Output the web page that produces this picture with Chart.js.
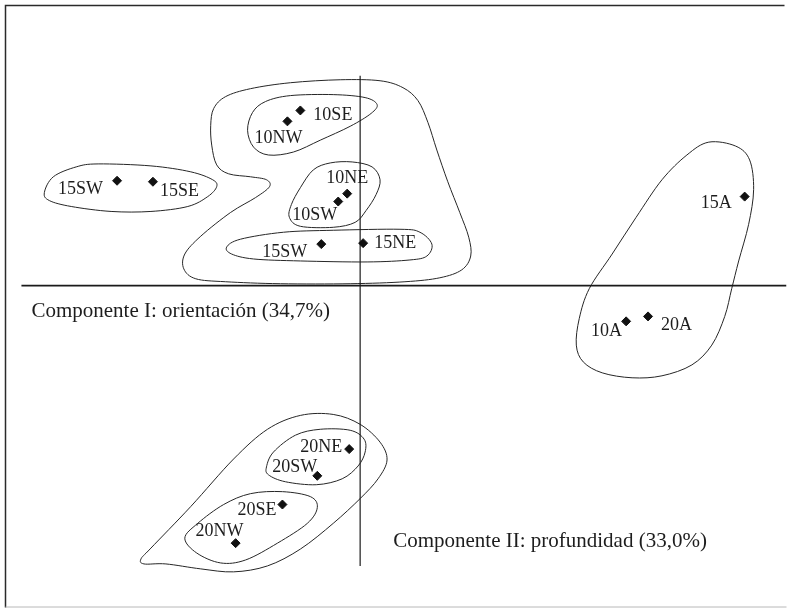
<!DOCTYPE html>
<html>
<head>
<meta charset="utf-8">
<script src="https://cdn.jsdelivr.net/npm/chart.js@4.4.0/dist/chart.umd.min.js"></script>
<style>
  html, body { margin: 0; padding: 0; background: #fff; }
  #wrap { width: 792px; height: 613px; }
</style>
</head>
<body>
<div id="wrap"><canvas id="c" width="792" height="613"></canvas></div>
<script>
// Sample names and their scores on the two principal components
const sampleNames = ['10SE', '10NW', '15SW', '15SE', '10NE', '10SW', '15SW', '15NE',
                     '15A', '10A', '20A', '20NE', '20SW', '20SE', '20NW'];
const scoreI  = [-0.60, -0.73, -2.44, -2.08, -0.13, -0.22, -0.39, 0.03,
                  3.86,  2.67,  2.89, -0.11, -0.43, -0.78, -1.25];
const scoreII = [ 1.77,  1.66,  1.06,  1.05,  0.93,  0.85,  0.42, 0.43,
                  0.90, -0.36, -0.31, -1.65, -1.92, -2.21, -2.60];

// Axis titles
const titleI = 'Componente I: orientación (34,7%)';
const titleII = 'Componente II: profundidad (33,0%)';

// Outlines of the groups, in component units
const groupShallow = [[-1.47,1.79],[-1.35,1.91],[-1.10,1.99],[-0.70,2.05],[-0.20,2.08],[0.20,2.07],
  [0.43,2.00],[0.58,1.87],[0.68,1.65],[0.77,1.37],[0.88,1.05],[1.00,0.74],[1.09,0.49],[1.11,0.30],
  [1.02,0.16],[0.80,0.08],[0.45,0.04],[-0.10,0.02],[-0.80,0.02],[-1.35,0.04],[-1.65,0.07],
  [-1.77,0.17],[-1.76,0.32],[-1.60,0.50],[-1.30,0.74],[-1.05,0.89],[-0.91,1.00],[-0.94,1.07],
  [-1.10,1.10],[-1.32,1.13],[-1.44,1.22],[-1.49,1.42],[-1.50,1.62]];
const group10North = [[-1.13,1.57],[-1.08,1.75],[-0.95,1.86],[-0.70,1.92],[-0.27,1.93],[0.05,1.90],
  [0.17,1.83],[0.11,1.74],[-0.10,1.61],[-0.40,1.47],[-0.67,1.35],[-0.92,1.32],[-1.07,1.40]];
const group10East = [[-0.47,1.17],[-0.30,1.24],[-0.08,1.25],[0.12,1.20],[0.20,1.07],[0.16,0.92],
  [0.06,0.76],[-0.05,0.64],[-0.27,0.59],[-0.60,0.60],[-0.71,0.69],[-0.69,0.82],[-0.60,0.99]];
const group15Centre = [[-1.34,0.39],[-1.20,0.47],[-0.77,0.54],[-0.27,0.56],[0.40,0.57],[0.60,0.54],
  [0.72,0.42],[0.67,0.30],[0.50,0.26],[0.07,0.24],[-0.60,0.25],[-1.07,0.27],[-1.29,0.32]];
const group15West = [[-3.17,0.94],[-3.08,1.10],[-2.85,1.20],[-2.63,1.23],[-2.10,1.21],[-1.70,1.15],
  [-1.48,1.07],[-1.44,1.00],[-1.53,0.90],[-1.73,0.80],[-2.10,0.75],[-2.50,0.75],[-2.90,0.80],[-3.12,0.86]];
const groupA = [[3.50,1.45],[3.77,1.41],[3.91,1.27],[3.95,0.97],[3.90,0.62],[3.80,0.25],[3.73,-0.03],
  [3.66,-0.31],[3.53,-0.60],[3.33,-0.80],[3.03,-0.91],[2.73,-0.93],[2.43,-0.88],[2.24,-0.77],
  [2.17,-0.60],[2.20,-0.33],[2.30,-0.03],[2.53,0.32],[2.77,0.69],[3.03,1.07],[3.28,1.32]];
const groupDeep = [[-2.20,-2.76],[-2.10,-2.65],[-1.70,-2.23],[-1.27,-1.75],[-0.93,-1.45],[-0.60,-1.31],
  [-0.27,-1.30],[0.00,-1.40],[0.20,-1.58],[0.27,-1.76],[0.18,-1.95],[0.00,-2.15],[-0.27,-2.40],
  [-0.60,-2.66],[-0.93,-2.83],[-1.27,-2.89],[-1.60,-2.86],[-1.95,-2.81],[-2.17,-2.81]];
const group20East = [[-0.94,-1.83],[-0.87,-1.68],[-0.65,-1.51],[-0.40,-1.45],[-0.10,-1.46],[0.04,-1.55],
  [0.05,-1.68],[-0.02,-1.82],[-0.18,-1.95],[-0.44,-2.01],[-0.75,-1.98],[-0.92,-1.91]];
const group20West = [[-1.76,-2.55],[-1.63,-2.40],[-1.37,-2.21],[-1.10,-2.10],[-0.78,-2.08],[-0.50,-2.13],
  [-0.43,-2.24],[-0.53,-2.40],[-0.83,-2.60],[-1.15,-2.77],[-1.40,-2.80],[-1.64,-2.70]];
const groupOutlines = [groupShallow, group10North, group10East, group15Centre, group15West,
                       groupA, groupDeep, group20East, group20West];

// Label placement next to each marker: [align, dx, dy] in pixels
const labelPlacement = [
  ['left', 13, 5], ['center', -9, 17], ['right', -14, 9], ['left', 7, 10],
  ['center', 0, -15], ['right', -1, 14], ['right', -14, 8], ['left', 11, 0],
  ['right', -13, 7], ['right', -4, 10], ['left', 13, 9], ['right', -7, -2],
  ['right', 0, -9], ['right', -6, 6], ['center', -16, -12]
];

const SERIF = '"Liberation Serif", "Times New Roman", "DejaVu Serif", serif';
const INK = '#1d1d1d';

// Closed Catmull-Rom outline through the given pixel points
function closedCurve(ctx, pts) {
  const n = pts.length;
  ctx.beginPath();
  ctx.moveTo(pts[0][0], pts[0][1]);
  for (let i = 0; i < n; i++) {
    const p0 = pts[(i - 1 + n) % n], p1 = pts[i], p2 = pts[(i + 1) % n], p3 = pts[(i + 2) % n];
    ctx.bezierCurveTo(
      p1[0] + (p2[0] - p0[0]) / 6, p1[1] + (p2[1] - p0[1]) / 6,
      p2[0] - (p3[0] - p1[0]) / 6, p2[1] - (p3[1] - p1[1]) / 6,
      p2[0], p2[1]);
  }
  ctx.closePath();
  ctx.stroke();
}

const framePlugin = {
  id: 'frame',
  beforeDatasetsDraw(chart) {
    const { ctx, chartArea: a, scales: { x, y } } = chart;
    ctx.save();
    // page frame: dark top and left, faint bottom
    ctx.strokeStyle = '#2a2a2a';
    ctx.lineWidth = 1.5;
    ctx.beginPath();
    ctx.moveTo(a.left, a.bottom);
    ctx.lineTo(a.left, a.top);
    ctx.lineTo(a.right - 2, a.top);
    ctx.stroke();
    ctx.strokeStyle = '#b8b8b8';
    ctx.lineWidth = 1;
    ctx.beginPath();
    ctx.moveTo(a.left, a.bottom - 0.5);
    ctx.lineTo(a.right, a.bottom - 0.5);
    ctx.stroke();
    // group outlines
    ctx.strokeStyle = '#262626';
    ctx.lineWidth = 1;
    groupOutlines.forEach(g => {
      closedCurve(ctx, g.map(p => [x.getPixelForValue(p[0]), y.getPixelForValue(p[1])]));
    });
    ctx.restore();
  },
  afterDatasetsDraw(chart) {
    const { ctx, scales: { x, y } } = chart;
    const meta = chart.getDatasetMeta(0);
    ctx.save();
    ctx.fillStyle = INK;
    ctx.textBaseline = 'middle';
    ctx.font = '18px ' + SERIF;
    meta.data.forEach((pt, i) => {
      const [align, dx, dy] = labelPlacement[i];
      ctx.textAlign = align;
      ctx.fillText(sampleNames[i], pt.x + dx, pt.y + dy);
    });
    // axis titles
    ctx.font = '21px ' + SERIF;
    ctx.textAlign = 'left';
    ctx.fillText(titleI, x.getPixelForValue(-3.30), y.getPixelForValue(0) + 26);
    ctx.fillText(titleII, x.getPixelForValue(0) + 33, y.getPixelForValue(-2.58));
    ctx.restore();
  }
};

new Chart(document.getElementById('c'), {
  type: 'scatter',
  data: {
    datasets: [
      {
        data: scoreI.map((v, i) => ({ x: v, y: scoreII[i] })),
        pointStyle: 'rectRot',
        pointRadius: 4.5,
        backgroundColor: '#111',
        borderColor: '#111',
        borderWidth: 1
      },
      {
        data: [{ x: -3.40, y: 0 }, { x: 4.28, y: 0 }],
        showLine: true, pointRadius: 0, borderColor: '#1a1a1a', borderWidth: 1.8
      },
      {
        data: [{ x: 0, y: 2.12 }, { x: 0, y: -2.83 }],
        showLine: true, pointRadius: 0, borderColor: '#1a1a1a', borderWidth: 1.2
      }
    ]
  },
  options: {
    responsive: false,
    animation: false,
    layout: { padding: { left: 4, top: 4, right: 4, bottom: 1 } },
    plugins: { legend: { display: false }, tooltip: { enabled: false } },
    scales: {
      x: { type: 'linear', min: -3.56, max: 4.28, display: false },
      y: { type: 'linear', min: -3.25, max: 2.83, display: false }
    }
  },
  plugins: [framePlugin]
});
</script>
</body>
</html>
